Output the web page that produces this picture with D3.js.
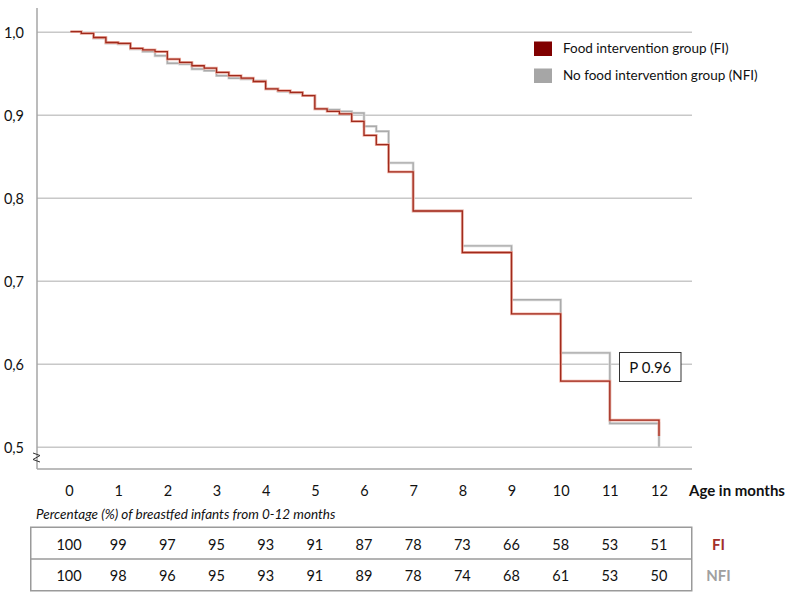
<!DOCTYPE html>
<html>
<head>
<meta charset="utf-8">
<script src="https://cdn.jsdelivr.net/npm/d3@7"></script>
<style>
  html, body { margin: 0; padding: 0; background: #fff; }
  svg { display: block; font-family: Lato, "Open Sans", sans-serif; }
</style>
</head>
<body>
<svg id="chart" width="790" height="593"></svg>
<script>
// ---------- data ----------
const stepMonths = [0, 0.25, 0.5, 0.75, 1, 1.25, 1.5, 1.75, 2, 2.25, 2.5, 2.75,
  3, 3.25, 3.5, 3.75, 4, 4.25, 4.5, 4.75, 5, 5.25, 5.5, 5.75, 6, 6.25, 6.5,
  7, 8, 9, 10, 11, 12];
const fiSurvival = [1.000, 0.998, 0.993, 0.987, 0.986, 0.980, 0.978, 0.976, 0.967, 0.963, 0.959, 0.956,
  0.951, 0.947, 0.944, 0.940, 0.931, 0.929, 0.927, 0.923, 0.907, 0.904, 0.901, 0.892, 0.875, 0.864, 0.831,
  0.784, 0.734, 0.660, 0.579, 0.532, 0.513];
const nfiSurvival = [1.000, 0.998, 0.992, 0.986, 0.985, 0.979, 0.976, 0.971, 0.962, 0.961, 0.955, 0.953,
  0.947, 0.944, 0.943, 0.941, 0.931, 0.928, 0.926, 0.923, 0.907, 0.906, 0.904, 0.902, 0.886, 0.880, 0.842,
  0.784, 0.742, 0.677, 0.613, 0.528, 0.500];
const months = [0, 1, 2, 3, 4, 5, 6, 7, 8, 9, 10, 11, 12];
const yTicks = [0.5, 0.6, 0.7, 0.8, 0.9, 1.0];
const yTickLabels = ["0,5", "0,6", "0,7", "0,8", "0,9", "1,0"];
const fiPct = [100, 99, 97, 95, 93, 91, 87, 78, 73, 66, 58, 53, 51];
const nfiPct = [100, 98, 96, 95, 93, 91, 89, 78, 74, 68, 61, 53, 50];
const seriesNames = ["Food intervention group (FI)", "No food intervention group (NFI)"];
const rowLabels = ["FI", "NFI"];
const pValueText = "P 0.96";
const xAxisTitle = "Age in months";
const tableCaption = "Percentage (%) of breastfed infants from 0-12 months";

// ---------- layout ----------
const svg = d3.select("#chart");
const x = d3.scaleLinear().domain([0, 12]).range([69, 659]);
const y = d3.scaleLinear().domain([0.5, 1.0]).range([446.7, 31.7]);
const axisX = 37, plotRight = 692, axisTop = 8, axisBottomY = 469;

// gridlines + y labels
const yAxis = d3.axisLeft(y)
  .tickValues(yTicks)
  .tickSize(-(plotRight - axisX))
  .tickSizeOuter(0)
  .tickPadding(13)
  .tickFormat((d, i) => yTickLabels[i]);
const gy = svg.append("g").attr("transform", `translate(${axisX},0)`).call(yAxis);
gy.select(".domain").remove();
gy.selectAll(".tick line").attr("stroke", "#c8c8c8").attr("stroke-width", 1.5);
gy.selectAll(".tick text").attr("font-family", "Lato, sans-serif").attr("font-size", 14.5)
  .attr("fill", "#111").attr("dy", "0.4em");

// axis lines
svg.append("line").attr("x1", axisX).attr("x2", axisX).attr("y1", axisTop).attr("y2", axisBottomY)
  .attr("stroke", "#a6a6a6").attr("stroke-width", 1.5);
svg.append("line").attr("x1", axisX).attr("x2", plotRight).attr("y1", axisBottomY).attr("y2", axisBottomY)
  .attr("stroke", "#a6a6a6").attr("stroke-width", 1.5);

// axis break mark
svg.append("path").attr("d", "M33,453 L40,455.5 L33,459.5 L40,462")
  .attr("fill", "none").attr("stroke", "#333").attr("stroke-width", 1);

// x axis labels
const xAxis = d3.axisBottom(x).tickValues(months).tickSize(0).tickPadding(0).tickFormat(d3.format("d"));
const gx = svg.append("g").attr("transform", `translate(0,${axisBottomY})`).call(xAxis);
gx.select(".domain").remove();
gx.selectAll(".tick text").attr("font-family", "Lato, sans-serif").attr("font-size", 14.5)
  .attr("fill", "#111").attr("dy", 0).attr("y", 27);
svg.append("text").attr("x", 689).attr("y", 496).attr("font-size", 15).attr("font-weight", "bold")
  .attr("fill", "#111").text(xAxisTitle);

// step curves
const line = d3.line().x(d => x(d[0])).y(d => y(d[1])).curve(d3.curveStepAfter);
const fiPts = stepMonths.map((m, i) => [m, fiSurvival[i]]);
const nfiPts = stepMonths.map((m, i) => [m, nfiSurvival[i]]);
fiPts[0] = [0.03, fiSurvival[0]];
nfiPts[0] = [0.03, nfiSurvival[0]];

svg.append("path").datum(nfiPts).attr("d", line).attr("fill", "none")
  .attr("stroke", "#dcdcdc").attr("stroke-width", 2.8);
svg.append("path").datum(nfiPts).attr("d", line).attr("fill", "none")
  .attr("stroke", "#ababab").attr("stroke-width", 1.4);
svg.append("path").datum(fiPts).attr("d", line).attr("fill", "none")
  .attr("stroke", "#eeaa9c").attr("stroke-width", 2.8).attr("stroke-opacity", 0.9);
svg.append("path").datum(fiPts).attr("d", line).attr("fill", "none")
  .attr("stroke", "#a02a1c").attr("stroke-width", 1.3);

// legend
const legColors = ["#800000", "#a6a6a6"];
const leg = svg.append("g");
seriesNames.forEach((name, i) => {
  leg.append("rect").attr("x", 534).attr("y", 41.5 + i * 27).attr("width", 18).attr("height", 14.5)
    .attr("fill", legColors[i]);
  leg.append("text").attr("x", 563).attr("y", 53 + i * 27).attr("font-size", 13.5)
    .attr("fill", "#111").text(name);
});

// P value box
svg.append("rect").attr("x", 619.5).attr("y", 352.5).attr("width", 61.5).attr("height", 29)
  .attr("fill", "#fff").attr("stroke", "#333").attr("stroke-width", 1);
svg.append("text").attr("x", 650.3).attr("y", 372.5).attr("text-anchor", "middle")
  .attr("font-size", 15).attr("fill", "#111").text(pValueText);

// table caption
svg.append("text").attr("x", 36).attr("y", 519).attr("font-size", 13.5).attr("font-style", "italic")
  .attr("fill", "#111").text(tableCaption);

// table
svg.append("rect").attr("x", 30.75).attr("y", 527.25).attr("width", 661).attr("height", 63.5)
  .attr("fill", "none").attr("stroke", "#9a9a9a").attr("stroke-width", 1.5);
svg.append("line").attr("x1", 30.75).attr("x2", 691.75).attr("y1", 559).attr("y2", 559)
  .attr("stroke", "#9a9a9a").attr("stroke-width", 1.5);

const rows = [fiPct, nfiPct];
const rowBase = [549.5, 581];
rows.forEach((vals, r) => {
  svg.append("g").selectAll("text").data(vals).join("text")
    .attr("x", (d, i) => x(months[i]))
    .attr("y", rowBase[r])
    .attr("text-anchor", "middle")
    .attr("font-size", 14.5)
    .attr("fill", "#111")
    .text(d => d);
});
const rowColors = ["#a3302a", "#a0a0a0"];
rowLabels.forEach((lab, r) => {
  svg.append("text").attr("x", 718.5).attr("y", rowBase[r]).attr("text-anchor", "middle")
    .attr("font-size", 15).attr("font-weight", "bold").attr("fill", rowColors[r]).text(lab);
});
</script>
</body>
</html>
